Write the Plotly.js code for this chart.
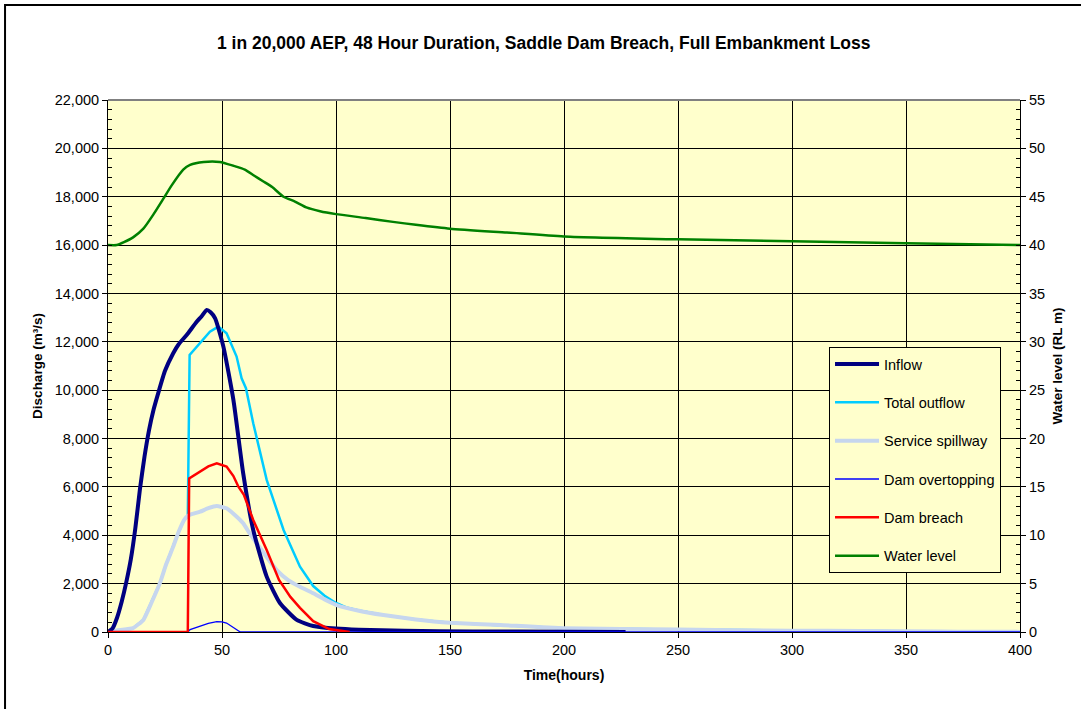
<!DOCTYPE html>
<html>
<head>
<meta charset="utf-8">
<script src="https://cdn.plot.ly/plotly-3.0.1.min.js"></script>
<style>html,body{margin:0;padding:0;background:#fff;}#chart{width:1081px;height:709px;}</style>
</head>
<body>
<div id="chart"></div>
<script>
// ---- Data ----
const inflowT = [0,2,4,6,8,10,12,14,16,18,20,22,25,28.6,31,34.5,38.9,41,43.3,45,47,50.6,55,59.3,63.7,69.6,75.4,82.8,90,100,110,130,160,200,227];
const inflowQ = [0,150,600,1250,2050,3000,4300,5900,7250,8350,9200,9870,10800,11525,11900,12280,12830,13050,13320,13220,12970,11800,9600,6560,4220,2290,1200,500,250,140,90,50,25,10,5];

const outflowT = [0,5,11,15.5,19,22.8,25.5,28.6,31,33.5,35,35.8,40.4,44.7,48.4,52,56.4,58.6,60.5,63.7,69.6,77,84.2,90,95,100,105,110,120.8,135,150,172,200,250,300,330,365,380,400];
const outflowQ = [0,80,160,500,1200,2030,2800,3530,4150,4650,4800,11455,11940,12420,12630,12350,11390,10490,10080,8630,6290,4220,2700,1900,1500,1200,1000,890,700,520,385,290,150,100,55,40,20,10,5];

const spillT = [0,5,11,15.5,19,22.8,25.5,28.6,31,33.5,35,37,40.4,44,47.7,52,55.5,59.3,62,65.2,70,74,79,84.2,90,95,100.3,110,120.8,135,150,172,200,250,300,330,365,380,400];
const spillQ = [0,80,160,500,1200,2030,2800,3530,4150,4650,4800,4880,4975,5120,5210,5115,4850,4495,4100,3670,3050,2560,2150,1870,1600,1350,1115,880,700,520,385,290,150,100,55,40,20,10,5];

const overtopT = [0,35,36,40,44,47.7,50,52,55,58,400];
const overtopQ = [0,0,100,240,360,430,420,370,200,0,0];

const breachT = [0,35,35.6,40.4,44,47.7,52,55,57.2,59.6,63.7,69.6,75,80,84.2,90,97,106];
const breachQ = [0,0,6350,6630,6850,6980,6840,6450,6010,5670,4630,3390,2150,1450,1000,450,120,0];

const levelT = [0,3.8,7,11,15.5,20,24.3,28,33,36,42,49,55,60,64,68,72,77,82,87,93,100,113,125,135,150,175,200,250,300,350,400];
const levelH = [40.0,40.0,40.3,40.8,41.7,43.2,44.8,46.2,47.8,48.3,48.6,48.6,48.2,47.8,47.2,46.6,46.0,45.0,44.5,43.9,43.5,43.2,42.8,42.4,42.1,41.7,41.3,40.9,40.6,40.4,40.2,40.0];

const seriesNames = ['Inflow','Total outflow','Service spillway','Dam overtopping','Dam breach','Water level'];
const xTickVals = [0,50,100,150,200,250,300,350,400];

// ---- Traces ----
const traces = [
  {x: outflowT, y: outflowQ, name: seriesNames[1], legendrank: 2, legendgroup: 'b',
   mode: 'lines', line: {color: '#00CCFF', width: 2.5}},
  {x: spillT, y: spillQ, name: seriesNames[2], legendrank: 3, legendgroup: 'c',
   mode: 'lines', line: {color: '#C6D6EE', width: 4, shape: 'spline', smoothing: 0.4}},
  {x: inflowT, y: inflowQ, name: seriesNames[0], legendrank: 1, legendgroup: 'a',
   mode: 'lines', line: {color: '#000080', width: 4, shape: 'spline', smoothing: 0.5}},
  {x: overtopT, y: overtopQ, name: seriesNames[3], legendrank: 4, legendgroup: 'd',
   mode: 'lines', line: {color: '#0000FF', width: 1.3}},
  {x: breachT, y: breachQ, name: seriesNames[4], legendrank: 5, legendgroup: 'e',
   mode: 'lines', line: {color: '#FF0000', width: 2.5}},
  {x: levelT, y: levelH, name: seriesNames[5], legendrank: 6, legendgroup: 'f', yaxis: 'y2',
   mode: 'lines', line: {color: '#008000', width: 2.5, shape: 'spline', smoothing: 0.6}}
];

const font = {family: 'Arial, "Liberation Sans", sans-serif', color: '#000'};

const layout = {
  width: 1081, height: 709,
  margin: {l: 108, r: 61, t: 100, b: 77},
  paper_bgcolor: '#FFFFFF',
  plot_bgcolor: '#FFFFCC',
  font: Object.assign({size: 14}, font),
  showlegend: true,
  title: {text: '1 in 20,000 AEP, 48 Hour Duration, Saddle Dam Breach, Full Embankment Loss',
          font: Object.assign({size: 17.5, weight: 'bold'}, font),
          x: 0.503, xanchor: 'center', y: 0.94, yanchor: 'middle'},
  xaxis: {
    range: [0, 400], tickvals: xTickVals, ticktext: xTickVals.map(String),
    showgrid: true, gridcolor: '#000', gridwidth: 1,
    showline: true, linecolor: '#000', linewidth: 1,
    ticks: 'outside', ticklen: 5, tickcolor: '#000',
    zeroline: false, tickfont: Object.assign({size: 14.5}, font),
    title: {text: 'Time(hours)', font: Object.assign({size: 14, weight: 'bold'}, font), standoff: 12}
  },
  yaxis: {
    range: [0, 22000], dtick: 2000, tickformat: ',d',
    showgrid: true, gridcolor: '#000', gridwidth: 1,
    showline: true, linecolor: '#000', linewidth: 1,
    ticks: 'outside', ticklen: 5, tickcolor: '#000',
    minor: {dtick: 400, ticks: 'inside', ticklen: 4, tickcolor: '#000', showgrid: false},
    zeroline: false, tickfont: Object.assign({size: 14.5}, font),
    title: {text: 'Discharge (m³/s)', font: Object.assign({size: 13.5, weight: 'bold'}, font), standoff: 9}
  },
  yaxis2: {
    range: [0, 55], dtick: 5, overlaying: 'y', side: 'right',
    showgrid: false, showline: true, linecolor: '#000', linewidth: 1,
    ticks: 'outside', ticklen: 5, tickcolor: '#000',
    minor: {dtick: 1, ticks: 'inside', ticklen: 4, tickcolor: '#000', showgrid: false},
    zeroline: false, tickfont: Object.assign({size: 14.5}, font),
    title: {text: 'Water level (RL m)', font: Object.assign({size: 13.5, weight: 'bold'}, font), standoff: 8}
  },
  legend: {
    x: 0.7906, y: 0.5357, xanchor: 'left', yanchor: 'top',
    bgcolor: '#FFFFCC', bordercolor: '#000', borderwidth: 1,
    font: Object.assign({size: 14.5}, font),
    tracegroupgap: 16.5, traceorder: 'grouped', itemwidth: 44
  },
  shapes: [
    {type: 'rect', xref: 'paper', yref: 'paper', x0: -0.1129, x1: 1.08, y0: -0.17, y1: 1.1786,
     line: {color: '#000', width: 2}, fillcolor: 'rgba(0,0,0,0)', layer: 'above'},
    {type: 'line', xref: 'paper', yref: 'paper', x0: 0, x1: 1, y0: 1, y1: 1,
     line: {color: '#808080', width: 2}, layer: 'above'}
  ]
};

Plotly.newPlot('chart', traces, layout, {displayModeBar: false, staticPlot: true});
</script>
</body>
</html>
